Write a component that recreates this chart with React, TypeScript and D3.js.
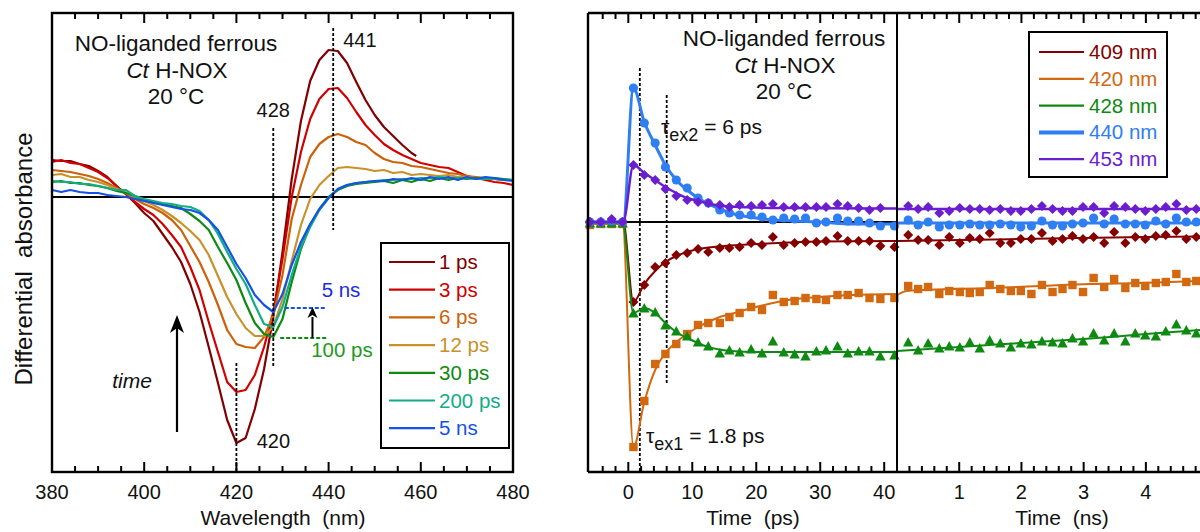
import React from "react";
import * as d3 from "d3";

// ---------- Left panel: transient difference spectra ----------
const WL = d3.range(380, 481, 2);
const WL_1PS = [...d3.range(380, 459, 2), 459];

const spec1ps = [0.37, 0.36, 0.36, 0.33, 0.31, 0.26, 0.2, 0.11, 0.03, -0.06, -0.16, -0.24, -0.37, -0.5, -0.65, -0.87, -1.15, -1.5, -1.86, -2.23, -2.46, -2.41, -2.12, -1.72, -1.2, -0.55, 0.18, 0.76, 1.16, 1.37, 1.47, 1.46, 1.34, 1.15, 0.97, 0.82, 0.7, 0.61, 0.52, 0.44, 0.41];
const spec3ps = [0.35, 0.37, 0.34, 0.33, 0.29, 0.25, 0.19, 0.11, 0.03, -0.05, -0.12, -0.18, -0.27, -0.38, -0.5, -0.7, -0.93, -1.25, -1.55, -1.85, -1.95, -1.93, -1.78, -1.5, -1.15, -0.62, 0.0, 0.45, 0.78, 0.98, 1.08, 1.09, 0.99, 0.85, 0.72, 0.62, 0.53, 0.47, 0.42, 0.38, 0.34, 0.32, 0.3, 0.29, 0.25, 0.21, 0.19, 0.17, 0.15, 0.14, 0.12];
const spec6ps = [0.27, 0.26, 0.25, 0.23, 0.21, 0.18, 0.14, 0.09, 0.04, -0.02, -0.07, -0.11, -0.16, -0.23, -0.33, -0.49, -0.65, -0.85, -1.08, -1.33, -1.47, -1.5, -1.51, -1.4, -1.18, -0.78, -0.22, 0.12, 0.4, 0.53, 0.6, 0.63, 0.6, 0.55, 0.52, 0.44, 0.38, 0.35, 0.34, 0.31, 0.3, 0.28, 0.26, 0.24, 0.23, 0.21, 0.2, 0.19, 0.18, 0.17, 0.17];
const spec12ps = [0.22, 0.23, 0.2, 0.2, 0.17, 0.15, 0.12, 0.08, 0.04, 0.0, -0.04, -0.08, -0.13, -0.19, -0.26, -0.34, -0.43, -0.58, -0.79, -1.0, -1.17, -1.31, -1.39, -1.39, -1.3, -1.02, -0.64, -0.28, -0.02, 0.12, 0.21, 0.29, 0.3, 0.29, 0.28, 0.26, 0.27, 0.24, 0.25, 0.22, 0.23, 0.22, 0.21, 0.22, 0.2, 0.2, 0.19, 0.18, 0.18, 0.17, 0.17];
const spec30ps = [0.15, 0.16, 0.14, 0.14, 0.12, 0.11, 0.09, 0.06, 0.04, 0.01, -0.03, -0.05, -0.07, -0.09, -0.11, -0.17, -0.24, -0.33, -0.5, -0.66, -0.83, -1.06, -1.26, -1.37, -1.4, -1.22, -0.85, -0.52, -0.28, -0.12, 0.0, 0.07, 0.11, 0.13, 0.14, 0.15, 0.16, 0.14, 0.17, 0.15, 0.18, 0.16, 0.19, 0.17, 0.19, 0.18, 0.19, 0.18, 0.19, 0.18, 0.17];
const spec200ps = [0.16, 0.15, 0.15, 0.13, 0.13, 0.11, 0.09, 0.07, 0.07, 0.01, -0.02, -0.04, -0.06, -0.07, -0.09, -0.1, -0.14, -0.23, -0.37, -0.55, -0.72, -0.87, -1.08, -1.27, -1.3, -1.1, -0.78, -0.5, -0.3, -0.13, -0.01, 0.08, 0.12, 0.14, 0.15, 0.16, 0.17, 0.17, 0.18, 0.18, 0.19, 0.19, 0.2, 0.19, 0.19, 0.19, 0.18, 0.18, 0.18, 0.17, 0.17];
const spec5ns = [0.07, 0.05, 0.07, 0.05, 0.04, 0.04, 0.02, 0.01, 0.0, -0.02, -0.04, -0.06, -0.08, -0.1, -0.12, -0.13, -0.16, -0.23, -0.33, -0.5, -0.67, -0.81, -0.98, -1.08, -1.15, -0.97, -0.68, -0.45, -0.27, -0.12, -0.01, 0.08, 0.12, 0.14, 0.15, 0.16, 0.16, 0.18, 0.17, 0.19, 0.17, 0.2, 0.18, 0.2, 0.17, 0.2, 0.18, 0.2, 0.19, 0.17, 0.16];

const SPECTRA = [
  { label: "1 ps", color: "#820000", wl: WL_1PS, values: spec1ps },
  { label: "3 ps", color: "#D10000", wl: WL, values: spec3ps },
  { label: "6 ps", color: "#CC6208", wl: WL, values: spec6ps },
  { label: "12 ps", color: "#C8922A", wl: WL, values: spec12ps },
  { label: "30 ps", color: "#0E8A12", wl: WL, values: spec30ps },
  { label: "200 ps", color: "#12AD86", wl: WL, values: spec200ps },
  { label: "5 ns", color: "#1452E6", wl: WL, values: spec5ns },
];

const WL_TICKS_MAJOR = [380, 400, 420, 440, 460, 480];
const WL_TICKS_MINOR = d3.range(385, 480, 5).filter((w) => w % 20 !== 0);

// ---------- Right panel: kinetic traces ----------
const PS_TIMES = [-6.0, -4.3, -2.6, -0.9, 0.8, 2.5, 4.2, 5.8, 7.5, 9.2, 10.9, 12.5, 14.3, 15.8, 17.4, 19.2, 20.9, 22.6, 24.3, 26.0, 27.7, 29.4, 30.9, 32.7, 34.3, 36.0, 37.7, 39.4, 41.6];
const NS_TIMES = [0.18, 0.34, 0.5, 0.68, 0.84, 1.01, 1.17, 1.33, 1.49, 1.66, 1.83, 1.99, 2.16, 2.33, 2.5, 2.66, 2.82, 2.99, 3.16, 3.33, 3.49, 3.67, 3.83, 3.99, 4.16, 4.32, 4.49, 4.65, 4.81];

const ps409 = [0, 0, 0, 0, -0.8, -0.63, -0.45, -0.41, -0.33, -0.31, -0.27, -0.3, -0.26, -0.26, -0.25, -0.21, -0.23, -0.15, -0.23, -0.21, -0.2, -0.2, -0.19, -0.14, -0.19, -0.19, -0.19, -0.24, -0.25];
const ps420 = [-0.03, -0.02, -0.02, -0.02, -2.25, -1.79, -1.42, -1.32, -1.22, -1.12, -1.03, -1.01, -1.01, -0.95, -0.91, -0.85, -0.88, -0.73, -0.8, -0.79, -0.76, -0.77, -0.78, -0.73, -0.73, -0.71, -0.76, -0.77, -0.76];
const ps428 = [-0.01, -0.01, -0.01, -0.01, -0.91, -0.86, -0.9, -1.03, -1.09, -1.14, -1.2, -1.24, -1.31, -1.28, -1.3, -1.27, -1.31, -1.19, -1.3, -1.32, -1.34, -1.29, -1.28, -1.24, -1.31, -1.29, -1.29, -1.34, -1.33];
const ps440 = [0, 0, 0.01, 0, 1.34, 0.99, 0.79, 0.55, 0.42, 0.34, 0.24, 0.19, 0.12, 0.09, 0.07, 0.07, 0.05, 0.02, 0.04, 0.03, 0.04, -0.01, 0.0, 0.04, 0.01, 0.01, -0.01, -0.04, -0.04];
const ps453 = [0, 0, 0.03, 0, 0.57, 0.47, 0.42, 0.33, 0.26, 0.22, 0.2, 0.19, 0.17, 0.15, 0.17, 0.16, 0.17, 0.18, 0.15, 0.15, 0.15, 0.15, 0.15, 0.18, 0.16, 0.14, 0.12, 0.14, NaN];

const ns409 = [-0.13, -0.18, -0.18, -0.23, -0.15, -0.21, -0.16, -0.17, -0.11, -0.21, -0.21, -0.17, -0.17, -0.11, -0.19, -0.17, -0.14, -0.17, -0.15, -0.21, -0.1, -0.21, -0.15, -0.17, -0.14, -0.13, -0.09, -0.17, -0.15];
const ns420 = [-0.64, -0.67, -0.65, -0.72, -0.69, -0.7, -0.71, -0.7, -0.63, -0.67, -0.69, -0.69, -0.72, -0.63, -0.7, -0.67, -0.63, -0.7, -0.56, -0.65, -0.57, -0.66, -0.61, -0.64, -0.61, -0.6, -0.52, -0.6, -0.59];
const ns428 = [-1.2, -1.28, -1.21, -1.26, -1.24, -1.25, -1.2, -1.26, -1.18, -1.21, -1.25, -1.21, -1.22, -1.19, -1.2, -1.21, -1.16, -1.19, -1.11, -1.18, -1.11, -1.19, -1.11, -1.13, -1.14, -1.09, -1.02, -1.08, -1.11];
const ns440 = [0.02, -0.03, 0.0, -0.05, -0.03, -0.03, -0.02, -0.03, -0.03, -0.02, -0.03, -0.05, -0.04, 0.01, -0.03, -0.04, -0.02, -0.01, 0.04, -0.02, 0.03, -0.02, -0.02, -0.03, 0.01, -0.02, 0.04, 0.0, 0.0];
const ns453 = [0.16, 0.13, 0.15, 0.09, 0.11, 0.14, 0.13, 0.13, 0.12, 0.13, 0.11, 0.11, 0.13, 0.16, 0.13, 0.11, 0.11, 0.15, 0.15, 0.09, 0.16, 0.15, 0.13, 0.11, 0.13, 0.15, 0.18, 0.12, 0.13];

// fitted curves: [time, value]
const fitPs409 = [[-6.3, 0], [-0.8, 0], [0.8, -0.8], [2.5, -0.62], [4.2, -0.49], [5.8, -0.4], [7.5, -0.34], [9.2, -0.3], [10.9, -0.27], [12.5, -0.255], [15, -0.24], [20, -0.22], [25, -0.205], [30, -0.195], [42, -0.19]];
const fitPs420 = [[-6.3, -0.02], [-0.9, -0.02], [0.8, -2.25], [2.5, -1.8], [4.2, -1.48], [5.8, -1.31], [7.5, -1.2], [9.2, -1.12], [10.9, -1.05], [12.5, -1.0], [14.3, -0.95], [16, -0.92], [19.3, -0.86], [22.6, -0.81], [25, -0.78], [30, -0.75], [35, -0.73], [42, -0.72]];
const fitPs428 = [[-6.3, -0.01], [-0.9, -0.01], [0.8, -0.91], [2.5, -0.86], [4.2, -0.91], [5.8, -1.01], [7.5, -1.1], [9.2, -1.16], [10.9, -1.21], [12.5, -1.25], [14.3, -1.275], [16, -1.29], [20, -1.3], [30, -1.3], [42, -1.3]];
const fitPs440 = [[-6.3, 0], [-0.8, 0], [0.8, 1.34], [2.5, 1.0], [4.2, 0.77], [5.8, 0.57], [7.5, 0.42], [9.2, 0.32], [10.9, 0.24], [12.5, 0.18], [14.3, 0.13], [16, 0.09], [18, 0.06], [20, 0.04], [23, 0.02], [26, 0.01], [30, 0.0], [35, -0.02], [42, -0.02]];
const fitPs453 = [[-6.3, 0], [-0.8, 0], [0.8, 0.57], [2.5, 0.49], [4.2, 0.42], [5.8, 0.35], [7.5, 0.29], [9.2, 0.24], [10.9, 0.21], [12.5, 0.185], [14.3, 0.165], [16, 0.155], [20, 0.145], [25, 0.14], [30, 0.137], [42, 0.135]];

const fitNs409 = [[0, -0.19], [1, -0.18], [2, -0.17], [3, -0.16], [4, -0.15], [4.87, -0.145]];
const fitNs420 = [[0, -0.73], [0.16, -0.69], [1.5, -0.66], [2.3, -0.64], [3.1, -0.62], [3.9, -0.61], [4.87, -0.59]];
const fitNs428 = [[0, -1.29], [1, -1.25], [2, -1.21], [3, -1.17], [4, -1.12], [4.87, -1.08]];
const fitNs440 = [[0, -0.01], [4.87, -0.01]];
const fitNs453 = [[0, 0.13], [4.87, 0.13]];

const TRACES = [
  { label: "409 nm", color: "#850000", marker: "diamond", ps: ps409, ns: ns409, fitPs: fitPs409, fitNs: fitNs409, width: 2 },
  { label: "420 nm", color: "#D2680F", marker: "square", ps: ps420, ns: ns420, fitPs: fitPs420, fitNs: fitNs420, width: 2 },
  { label: "428 nm", color: "#0E8A12", marker: "triangle", ps: ps428, ns: ns428, fitPs: fitPs428, fitNs: fitNs428, width: 2 },
  { label: "440 nm", color: "#2F7EF2", marker: "circle", ps: ps440, ns: ns440, fitPs: fitPs440, fitNs: fitNs440, width: 3 },
  { label: "453 nm", color: "#6A1ECF", marker: "diamond", ps: ps453, ns: ns453, fitPs: fitPs453, fitNs: fitNs453, width: 2.5 },
];

const PS_TICKS_MAJOR = [0, 10, 20, 30, 40];
const PS_TICKS_MINOR = d3.range(-4, 42, 2).filter((t) => t % 10 !== 0);
const NS_TICKS_MAJOR = [1, 2, 3, 4];
const NS_TICKS_MINOR = d3.range(1, 25).map((i) => +(i * 0.2).toFixed(1)).filter((t) => Math.abs(t - Math.round(t)) > 1e-6);

const FONT = "'Liberation Sans', Arial, Helvetica, sans-serif";
const FS_TICK = 20;
const FS_TITLE = 21;
const FS_YTITLE = 24;
const FS_NOTE = 22.5;
const FS_LEGEND = 20.5;

function markerPath(kind: string, x: number, y: number): string {
  if (kind === "circle") {
    const r = 4.6;
    return `M${x - r},${y}a${r},${r} 0 1,0 ${2 * r},0a${r},${r} 0 1,0 ${-2 * r},0Z`;
  }
  if (kind === "square") {
    const s = 4.2;
    return `M${x - s},${y - s}h${2 * s}v${2 * s}h${-2 * s}Z`;
  }
  if (kind === "triangle") {
    const w = 5.2, h = 4.6;
    return `M${x},${y - h - 0.5}L${x + w},${y + h}L${x - w},${y + h}Z`;
  }
  const d = 5;
  return `M${x},${y - d}L${x + d},${y}L${x},${y + d}L${x - d},${y}Z`;
}

export default function App() {
  // left panel geometry
  const L = { x0: 52, x1: 513, y0: 13, y1: 472 };
  const xWl = d3.scaleLinear().domain([380, 480]).range([L.x0, L.x1]);
  const yL = d3.scaleLinear().domain([-2.75, 1.84]).range([L.y1, L.y0]);

  // right panel geometry
  const R = { x0: 588, xd: 897, x1: 1202, y0: 13, y1: 472 };
  const xPs = d3.scaleLinear().domain([-6.3, 42]).range([R.x0, R.xd]);
  const xNs = d3.scaleLinear().domain([0, 4.87]).range([R.xd, 1200]);
  const yR = d3.scaleLinear().domain([-2.5, 2.09]).range([R.y1, R.y0]);

  const specLine = d3.line<[number, number]>().x((d) => xWl(d[0])).y((d) => yL(d[1]));
  const fitLinePs = d3.line<number[]>().x((d) => xPs(d[0])).y((d) => yR(d[1])).curve(d3.curveMonotoneX);
  const fitLineNs = d3.line<number[]>().x((d) => xNs(d[0])).y((d) => yR(d[1])).curve(d3.curveMonotoneX);

  const tickLen = { major: 10, minor: 6 };
  const axisStroke = 2.4;

  const txt = (props: any, children: any, size: number = FS_TICK) => (
    <text fontFamily={FONT} fontSize={size} fill="#111" {...props}>{children}</text>
  );

  return (
    <svg width={1200} height={532} style={{ position: "absolute", left: 0, top: 0, display: "block", background: "#fff" }}>
      <rect x={0} y={0} width={1200} height={532} fill="#fff" />

      {/* ================= LEFT PANEL ================= */}
      <g>
        {/* zero line */}
        <line x1={L.x0} x2={L.x1} y1={yL(0)} y2={yL(0)} stroke="#000" strokeWidth={2} />

        {/* spectra */}
        {SPECTRA.map((s) => (
          <path key={s.label} d={specLine(s.wl.map((w, i) => [w, s.values[i]]) as [number, number][]) || ""} fill="none" stroke={s.color} strokeWidth={2.2} strokeLinejoin="round" />
        ))}

        {/* marker lines at 420, 428, 441 nm */}
        <line x1={xWl(428)} x2={xWl(428)} y1={128} y2={367} stroke="#000" strokeWidth={1.8} strokeDasharray="3,2" />
        <line x1={xWl(441)} x2={xWl(441)} y1={28} y2={230} stroke="#000" strokeWidth={1.8} strokeDasharray="3,2" />
        <line x1={xWl(420)} x2={xWl(420)} y1={363} y2={L.y1} stroke="#000" strokeWidth={1.8} strokeDasharray="3,2" />
        {txt({ x: xWl(428), y: 117, textAnchor: "middle" }, "428")}
        {txt({ x: xWl(441) + 10, y: 47 }, "441")}
        {txt({ x: xWl(420) + 37, y: 448, textAnchor: "middle" }, "420")}

        {/* 5 ns / 100 ps minima markers */}
        <line x1={xWl(430.5)} x2={xWl(439.5)} y1={yL(-1.11)} y2={yL(-1.11)} stroke="#1452E6" strokeWidth={1.8} strokeDasharray="4,2" />
        <line x1={xWl(429.5)} x2={xWl(439.5)} y1={yL(-1.41)} y2={yL(-1.41)} stroke="#0E8A12" strokeWidth={1.8} strokeDasharray="4,2" />
        <line x1={xWl(436.5)} x2={xWl(436.5)} y1={yL(-1.41)} y2={yL(-1.2)} stroke="#000" strokeWidth={2} />
        <path d={`M${xWl(436.5)},${yL(-1.1)}l-5,11l5,-3l5,3Z`} fill="#000" />
        {txt({ x: 341, y: 297, textAnchor: "middle", fill: "#1C2EE0" }, "5 ns", FS_LEGEND)}
        {txt({ x: 342, y: 357, textAnchor: "middle", fill: "#1E9A1E" }, "100 ps", FS_LEGEND)}

        {/* time arrow */}
        <line x1={177} x2={177} y1={432} y2={325} stroke="#000" strokeWidth={2.2} />
        <path d="M177,315 l-7,18 l7,-5 l7,5Z" fill="#000" />
        {txt({ x: 132, y: 388, textAnchor: "middle", fontStyle: "italic" }, "time", FS_TITLE)}

        {/* sample annotation */}
        {txt({ x: 176, y: 51, textAnchor: "middle" }, "NO-liganded ferrous", FS_NOTE)}
        <text x={177} y={78} textAnchor="middle" fontFamily={FONT} fontSize={FS_NOTE} fill="#111">
          <tspan fontStyle="italic">Ct</tspan> H-NOX
        </text>
        {txt({ x: 176, y: 104, textAnchor: "middle" }, "20 °C", FS_NOTE)}

        {/* legend */}
        <rect x={381} y={243} width={128} height={205} fill="#fff" stroke="#000" strokeWidth={2} />
        {SPECTRA.map((s, i) => {
          const cy = 262 + i * 27.7;
          return (
            <g key={s.label}>
              <line x1={389} x2={435} y1={cy} y2={cy} stroke={s.color} strokeWidth={2.2} />
              {txt({ x: 439, y: cy + 7, fill: s.color }, s.label, FS_LEGEND)}
            </g>
          );
        })}

        {/* frame and ticks */}
        <rect x={L.x0} y={L.y0} width={L.x1 - L.x0} height={L.y1 - L.y0} fill="none" stroke="#000" strokeWidth={axisStroke} />
        {WL_TICKS_MAJOR.map((w) => (
          <g key={"M" + w}>
            <line x1={xWl(w)} x2={xWl(w)} y1={L.y1} y2={L.y1 - tickLen.major} stroke="#000" strokeWidth={2} />
            <line x1={xWl(w)} x2={xWl(w)} y1={L.y0} y2={L.y0 + tickLen.major} stroke="#000" strokeWidth={2} />
            {txt({ x: xWl(w), y: 499, textAnchor: "middle" }, String(w))}
          </g>
        ))}
        {WL_TICKS_MINOR.map((w) => (
          <g key={"m" + w}>
            <line x1={xWl(w)} x2={xWl(w)} y1={L.y1} y2={L.y1 - tickLen.minor} stroke="#000" strokeWidth={2} />
            <line x1={xWl(w)} x2={xWl(w)} y1={L.y0} y2={L.y0 + tickLen.minor} stroke="#000" strokeWidth={2} />
          </g>
        ))}
        {txt({ x: 283, y: 525, textAnchor: "middle" }, "Wavelength\u00a0\u00a0(nm)", FS_TITLE)}
        {txt({ x: 0, y: 0, textAnchor: "middle", transform: "translate(32,259) rotate(-90)" }, "Differential\u00a0\u00a0absorbance", FS_YTITLE)}
      </g>

      {/* ================= RIGHT PANEL ================= */}
      <g>
        <line x1={R.x0} x2={R.xd} y1={yR(0)} y2={yR(0)} stroke="#000" strokeWidth={2} />

        {/* lifetime markers */}
        <line x1={xPs(1.8)} x2={xPs(1.8)} y1={68} y2={R.y1} stroke="#000" strokeWidth={1.8} strokeDasharray="3,2" />
        <line x1={xPs(6)} x2={xPs(6)} y1={95} y2={385} stroke="#000" strokeWidth={1.8} strokeDasharray="3,2" />
        <text x={661} y={134} fontFamily={FONT} fontSize={FS_TITLE} fill="#111">
          τ<tspan dy={7} fontSize={18}>ex2</tspan><tspan dy={-7}> = 6 ps</tspan>
        </text>
        <text x={646} y={443} fontFamily={FONT} fontSize={FS_TITLE} fill="#111">
          τ<tspan dy={7} fontSize={18}>ex1</tspan><tspan dy={-7}> = 1.8 ps</tspan>
        </text>

        {/* fits and data */}
        {TRACES.map((t) => (
          <g key={t.label}>
            <path d={fitLinePs(t.fitPs) || ""} fill="none" stroke={t.color} strokeWidth={t.width} />
            <path d={fitLineNs(t.fitNs) || ""} fill="none" stroke={t.color} strokeWidth={t.width} />
            {t.ps.map((v, i) =>
              Number.isFinite(v) ? <path key={"p" + i} d={markerPath(t.marker, xPs(PS_TIMES[i]), yR(v))} fill={t.color} /> : null
            )}
            {t.ns.map((v, i) => (
              <path key={"n" + i} d={markerPath(t.marker, xNs(NS_TIMES[i]), yR(v))} fill={t.color} />
            ))}
          </g>
        ))}

        {/* sample annotation */}
        {txt({ x: 784, y: 46, textAnchor: "middle" }, "NO-liganded ferrous", FS_NOTE)}
        <text x={785} y={73} textAnchor="middle" fontFamily={FONT} fontSize={FS_NOTE} fill="#111">
          <tspan fontStyle="italic">Ct</tspan> H-NOX
        </text>
        {txt({ x: 784, y: 99, textAnchor: "middle" }, "20 °C", FS_NOTE)}

        {/* legend */}
        <rect x={1029} y={32} width={138} height={145} fill="#fff" stroke="#000" strokeWidth={2} />
        {TRACES.map((t, i) => {
          const cy = 52 + i * 26.8;
          return (
            <g key={t.label}>
              <line x1={1039} x2={1084} y1={cy} y2={cy} stroke={t.color} strokeWidth={t.width === 3 ? 4 : 2.2} />
              {txt({ x: 1089, y: cy + 7, fill: t.color }, t.label, FS_LEGEND)}
            </g>
          );
        })}

        {/* frame */}
        <line x1={R.x0} x2={R.x0} y1={R.y0} y2={R.y1} stroke="#000" strokeWidth={axisStroke} />
        <line x1={R.x0} x2={R.x1} y1={R.y0} y2={R.y0} stroke="#000" strokeWidth={axisStroke} />
        <line x1={R.x0} x2={R.x1} y1={R.y1} y2={R.y1} stroke="#000" strokeWidth={axisStroke} />
        <line x1={R.xd} x2={R.xd} y1={R.y0} y2={R.y1} stroke="#000" strokeWidth={2} />

        {PS_TICKS_MAJOR.map((t) => (
          <g key={"PM" + t}>
            <line x1={xPs(t)} x2={xPs(t)} y1={R.y1} y2={R.y1 - tickLen.major} stroke="#000" strokeWidth={2} />
            <line x1={xPs(t)} x2={xPs(t)} y1={R.y0} y2={R.y0 + tickLen.major} stroke="#000" strokeWidth={2} />
            {txt({ x: xPs(t), y: 499, textAnchor: "middle" }, String(t))}
          </g>
        ))}
        {PS_TICKS_MINOR.map((t) => (
          <g key={"Pm" + t}>
            <line x1={xPs(t)} x2={xPs(t)} y1={R.y1} y2={R.y1 - tickLen.minor} stroke="#000" strokeWidth={2} />
            <line x1={xPs(t)} x2={xPs(t)} y1={R.y0} y2={R.y0 + tickLen.minor} stroke="#000" strokeWidth={2} />
          </g>
        ))}
        {NS_TICKS_MAJOR.map((t) => (
          <g key={"NM" + t}>
            <line x1={xNs(t)} x2={xNs(t)} y1={R.y1} y2={R.y1 - tickLen.major} stroke="#000" strokeWidth={2} />
            <line x1={xNs(t)} x2={xNs(t)} y1={R.y0} y2={R.y0 + tickLen.major} stroke="#000" strokeWidth={2} />
            {txt({ x: xNs(t), y: 499, textAnchor: "middle" }, String(t))}
          </g>
        ))}
        {NS_TICKS_MINOR.map((t) => (
          <g key={"Nm" + t}>
            <line x1={xNs(t)} x2={xNs(t)} y1={R.y1} y2={R.y1 - tickLen.minor} stroke="#000" strokeWidth={2} />
            <line x1={xNs(t)} x2={xNs(t)} y1={R.y0} y2={R.y0 + tickLen.minor} stroke="#000" strokeWidth={2} />
          </g>
        ))}
        {txt({ x: 753, y: 525, textAnchor: "middle" }, "Time\u00a0\u00a0(ps)", FS_TITLE)}
        {txt({ x: 1062, y: 525, textAnchor: "middle" }, "Time\u00a0\u00a0(ns)", FS_TITLE)}
      </g>
    </svg>
  );
}
